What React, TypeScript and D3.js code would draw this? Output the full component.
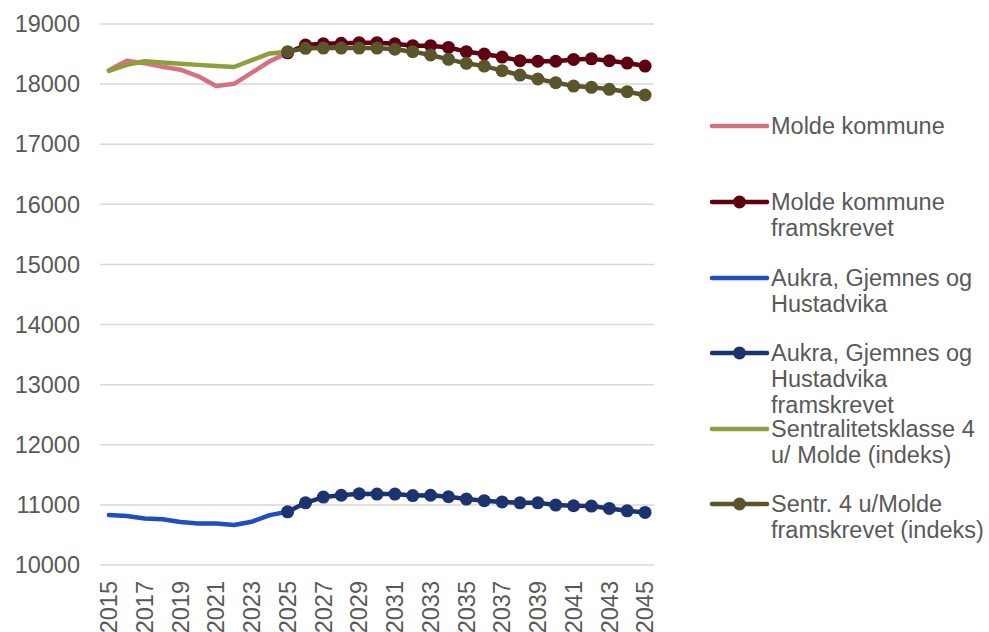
import React from "react";
import * as d3 from "d3";

const years: number[] = d3.range(2015, 2046);
const tickYears: number[] = d3.range(2015, 2046, 2);
const yTicks: number[] = [10000, 11000, 12000, 13000, 14000, 15000, 16000, 17000, 18000, 19000];

// 2015-2025
const moldeHist: number[] = [18230, 18390, 18345, 18290, 18240, 18130, 17970, 18005, 18190, 18380, 18520];
// 2025-2045
const moldeProj: number[] = [18520, 18650, 18670, 18680, 18690, 18690, 18670, 18640, 18640, 18610, 18540, 18500, 18450, 18390, 18380, 18380, 18410, 18420, 18390, 18350, 18300];
// 2015-2025
const aukraHist: number[] = [10830, 10815, 10775, 10760, 10715, 10690, 10690, 10665, 10720, 10830, 10885];
// 2025-2045
const aukraProj: number[] = [10885, 11035, 11130, 11160, 11185, 11180, 11180, 11155, 11160, 11135, 11097, 11070, 11050, 11035, 11035, 10997, 10986, 10980, 10941, 10902, 10875];
// 2015-2025
const sentrHist: number[] = [18220, 18320, 18380, 18360, 18340, 18320, 18300, 18285, 18400, 18510, 18540];
// 2025-2045
const sentrProj: number[] = [18540, 18595, 18600, 18600, 18600, 18600, 18580, 18540, 18485, 18412, 18345, 18300, 18224, 18151, 18085, 18024, 17968, 17946, 17913, 17874, 17819];

const legendLabels: string[][] = [
  ["Molde kommune"],
  ["Molde kommune", "framskrevet"],
  ["Aukra, Gjemnes og", "Hustadvika"],
  ["Aukra, Gjemnes og", "Hustadvika", "framskrevet"],
  ["Sentralitetsklasse 4", "u/ Molde (indeks)"],
  ["Sentr. 4 u/Molde", "framskrevet (indeks)"],
];

const colors = ["#D3737F", "#5E0012", "#1F4EBE", "#1C3370", "#8E9E3C", "#5A552A"];
const markers = [false, true, false, true, false, true];

export default function App() {
  const W = 989, H = 632;
  const x = d3.scalePoint<number>().domain(years).range([100, 654]).padding(0.5);
  const y = d3.scaleLinear().domain([10000, 19000]).range([565, 24]);
  const font = "'Liberation Sans', Arial, sans-serif";
  const textColor = "#595959";

  const histYears = years.filter((yr) => yr <= 2025);
  const projYears = years.filter((yr) => yr >= 2025);
  const series = [
    { yrs: histYears, vals: moldeHist },
    { yrs: projYears, vals: moldeProj },
    { yrs: histYears, vals: aukraHist },
    { yrs: projYears, vals: aukraProj },
    { yrs: histYears, vals: sentrHist },
    { yrs: projYears, vals: sentrProj },
  ];

  const line = d3
    .line<[number, number]>()
    .x((d) => x(d[0]) as number)
    .y((d) => y(d[1]));

  const legendY = [126, 202, 278, 353, 429, 504];

  return (
    <svg width={W} height={H} style={{ display: "block", position: "absolute", left: 0, top: 0, background: "#fff" }}>
      {yTicks.map((t) => (
        <g key={t}>
          <line x1={100} x2={654} y1={y(t)} y2={y(t)} stroke="#D9D9D9" strokeWidth={1.5} />
          <text x={80} y={y(t)} dy="0.35em" textAnchor="end" fontFamily={font} fontSize={23.5} fill={textColor}>
            {t}
          </text>
        </g>
      ))}
      {tickYears.map((yr) => (
        <text
          key={yr}
          transform={`translate(${x(yr)},${581}) rotate(-90)`}
          dy="0.35em"
          textAnchor="end"
          fontFamily={font}
          fontSize={23.5}
          fill={textColor}
        >
          {yr}
        </text>
      ))}
      {series.map((s, i) => {
        const pts: [number, number][] = s.yrs.map((yr, j) => [yr, s.vals[j]]);
        return (
          <g key={i}>
            <path d={line(pts) || ""} fill="none" stroke={colors[i]} strokeWidth={4.5} strokeLinejoin="round" strokeLinecap="round" />
            {markers[i] &&
              pts.map((p, j) => <circle key={j} cx={x(p[0])} cy={y(p[1])} r={6.5} fill={colors[i]} />)}
          </g>
        );
      })}
      {legendLabels.map((lines, i) => (
        <g key={i}>
          <line x1={712} x2={767} y1={legendY[i]} y2={legendY[i]} stroke={colors[i]} strokeWidth={4.5} strokeLinecap="round" />
          {markers[i] && <circle cx={739.5} cy={legendY[i]} r={6.5} fill={colors[i]} />}
          {lines.map((ln, k) => (
            <text key={k} x={771} y={legendY[i] + 8 + k * 26} fontFamily={font} fontSize={23.5} fill={textColor}>
              {ln}
            </text>
          ))}
        </g>
      ))}
    </svg>
  );
}
